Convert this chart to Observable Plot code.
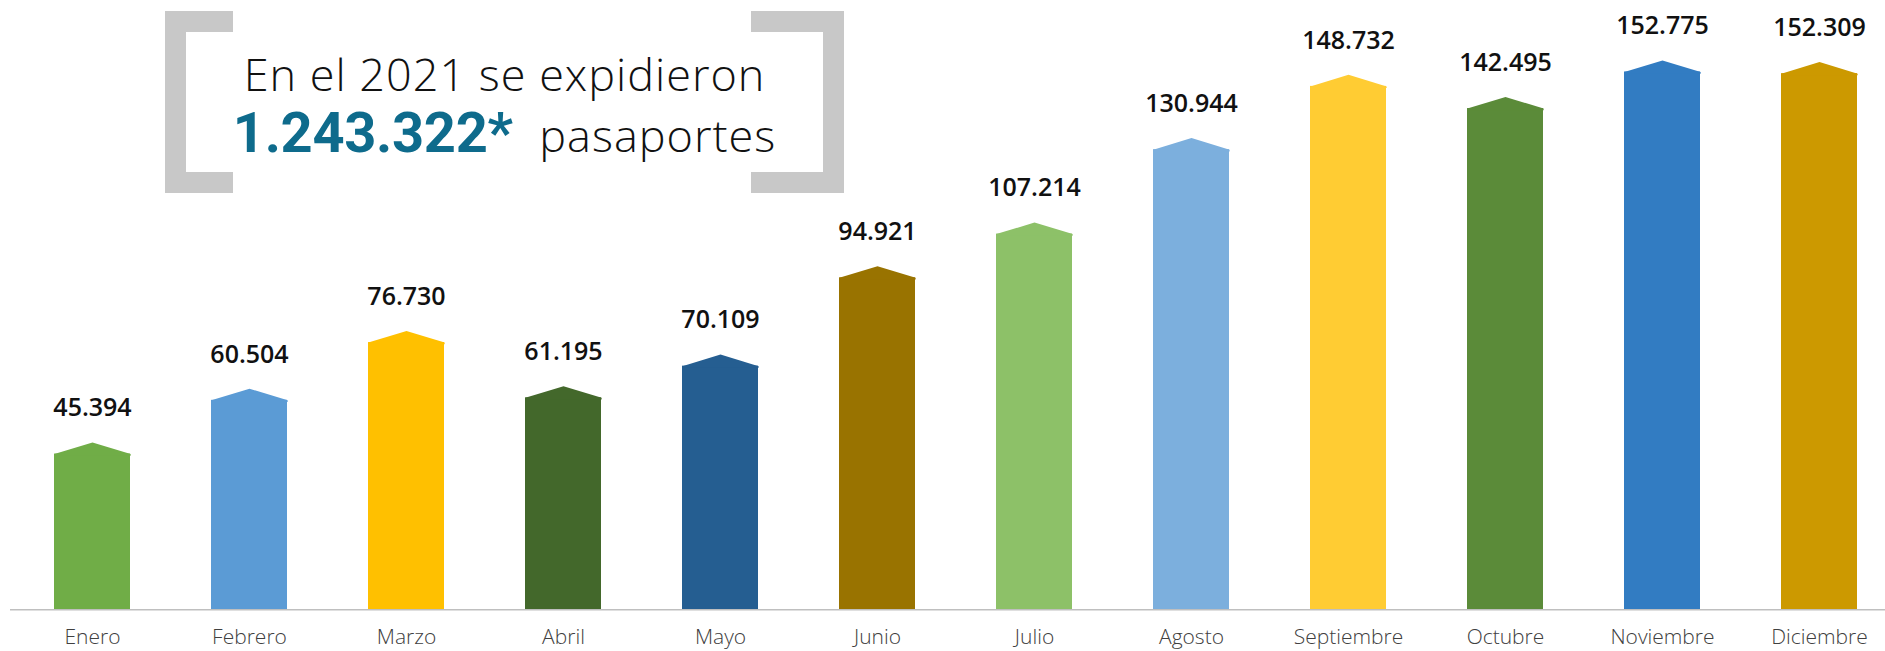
<!DOCTYPE html>
<html>
<head>
<meta charset="utf-8">
<script src="https://cdn.jsdelivr.net/npm/d3@7"></script>
<script src="https://cdn.jsdelivr.net/npm/@observablehq/plot@0.6"></script>
<style>
  html, body { margin: 0; padding: 0; background: #fff; }
  #wrap { position: relative; width: 1885px; height: 651px; overflow: hidden; }
  #title { position: absolute; left: 0; top: 0; }
</style>
</head>
<body>
<div id="wrap">
  <div id="chart"></div>
  <svg id="title" width="1885" height="220" xmlns="http://www.w3.org/2000/svg">
    <path d="M233,11 H165 V193 H233 V172 H186 V32 H233 Z" fill="#C8C8C8"/>
    <path d="M751,11 H844 V193 H751 V172 H823 V32 H751 Z" fill="#C8C8C8"/>
    <text x="504.5" y="90.7" text-anchor="middle" font-family="'Open Sans'" font-weight="300" font-size="45" letter-spacing="1" fill="#111">En el 2021 se expidieron</text>
    <text x="504.5" y="151.7" text-anchor="middle" font-family="'Open Sans'" font-size="45" fill="#111"><tspan font-family="Roboto" font-weight="700" font-size="56" fill="#0E6B8C" letter-spacing="-0.3">1.243.322*</tspan><tspan font-weight="300" letter-spacing="1" dx="14"> pasaportes</tspan></text>
  </svg>
</div>
<script>
const months = ["Enero", "Febrero", "Marzo", "Abril", "Mayo", "Junio", "Julio", "Agosto", "Septiembre", "Octubre", "Noviembre", "Diciembre"];
const values = [45394, 60504, 76730, 61195, 70109, 94921, 107214, 130944, 148732, 142495, 152775, 152309];
const colors = ["#70AD47", "#5B9BD5", "#FFC000", "#43682B", "#255E91", "#997300", "#8DC168", "#7CAFDD", "#FFCC33", "#5B8B39", "#327CC2", "#CC9900"];

const data = months.map((m, i) => ({month: m, value: values[i]}));

const es = d3.formatLocale({decimal: ",", thousands: ".", grouping: [3], currency: ["$", ""]});
const fmt = es.format(",d");

// pointed cap on top of each bar; r carries the half-width in px
const cap = {
  draw(context, size) {
    const w = Math.sqrt(size / Math.PI);
    context.moveTo(-w, 7.5);
    context.lineTo(-w, 5.8);
    context.lineTo(0, -5.8);
    context.lineTo(w, 5.8);
    context.lineTo(w, 7.5);
    context.closePath();
  }
};

const chart = Plot.plot({
  width: 1885,
  height: 651,
  marginLeft: 10,
  marginRight: 0,
  marginTop: 40,
  marginBottom: 41.7,
  style: {background: "white", fontFamily: "'Open Sans', sans-serif"},
  x: {type: "band", domain: months, range: [49, 1862], paddingInner: 0.517, paddingOuter: 0, label: null},
  y: {domain: [0, 160000], axis: null},
  color: {domain: months, range: colors},
  marks: [
    Plot.barY(data, {x: "month", y: "value", fill: "month", insetTop: 5.8}),
    Plot.dot(data, {x: "month", y: "value", fill: "month", symbol: cap, r: 38.15}),
    Plot.ruleY([0], {stroke: "#BFBFBF", strokeWidth: 1.5}),
    Plot.text(data, {x: "month", y: "value", text: d => fmt(d.value), dy: -40, fontSize: 25, fontWeight: 600, fill: "#111", style: "letter-spacing: 0.6px"}),
    Plot.axisX({tickSize: 0, tickPadding: 19, fontSize: 21, fontWeight: 300, fill: "#404040", label: null, style: "letter-spacing: 0.4px"})
  ]
});
document.getElementById("chart").appendChild(chart);
</script>
</body>
</html>
